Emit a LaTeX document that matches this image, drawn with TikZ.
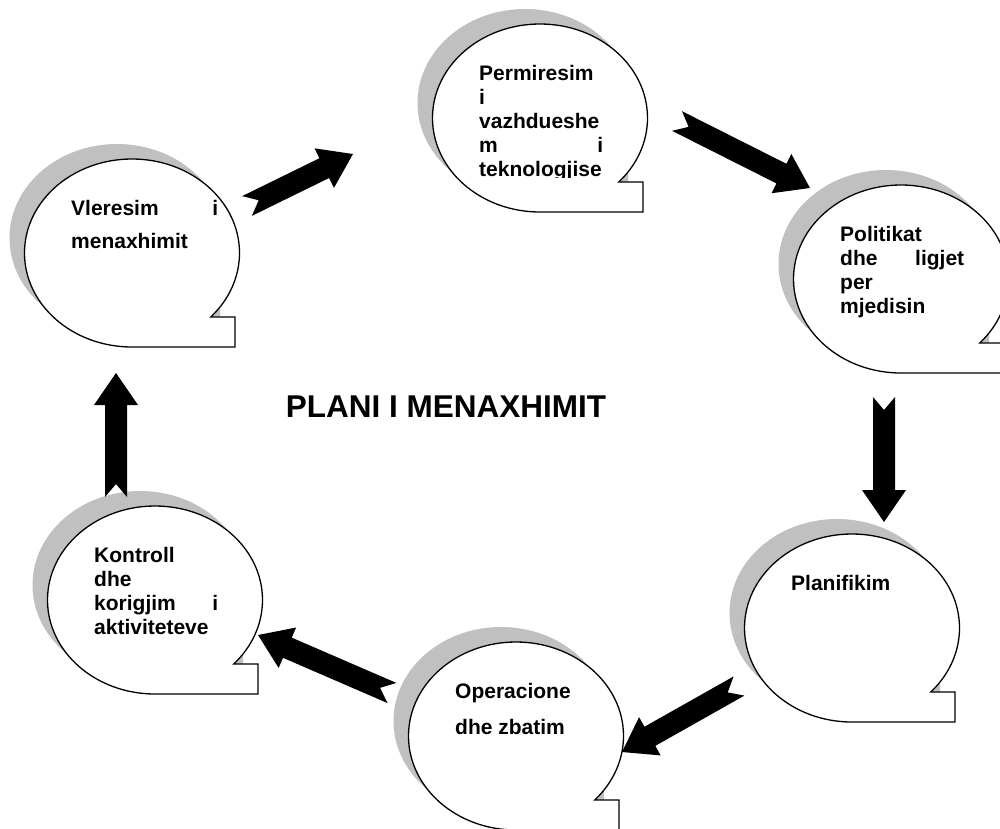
\documentclass[tikz,border=0pt]{standalone}
\usepackage{fontspec}
\setmainfont{Liberation Sans}
\definecolor{shadowgray}{RGB}{192,192,192}

% outline of one speech bubble, centre at (#1,#2)
\newcommand\bubbleshape[2]{({#1+103},{#2+64}) -- ({#1+103},{#2+94}) -- (#1,{#2+94})
  arc[start angle=90, end angle=402.9, x radius=107.5, y radius=94] -- cycle}
\newcommand\bubble[2]{%
  \fill[shadowgray,shift={(-15,-15)}] \bubbleshape{#1}{#2};
  \filldraw[fill=white,draw=black,line width=1.3pt] \bubbleshape{#1}{#2};}

% notched block arrow from #1 to #2
\newcommand\blockarrow[2]{%
  \path (#1); \pgfgetlastxy{\arrax}{\array}%
  \path (#2); \pgfgetlastxy{\arrbx}{\arrby}%
  \pgfmathsetmacro\arrang{atan2(\arrby-\array,\arrbx-\arrax)}%
  \pgfmathsetmacro\arrlen{veclen(\arrbx-\arrax,\arrby-\array)}%
  \begin{scope}[shift={(#1)},rotate=\arrang]
    \fill[black] (0,11) -- ({\arrlen-32},11) -- ({\arrlen-32},22) -- ({\arrlen},0)
      -- ({\arrlen-32},-22) -- ({\arrlen-32},-11) -- (0,-11) -- (13,0) -- cycle;
  \end{scope}}

\tikzset{bubbletext/.style={anchor=base west,inner sep=0pt,font=\bfseries\fontsize{21}{24}\selectfont}}

\begin{document}
\begin{tikzpicture}[x=1pt,y=-1pt]
 \clip (0,0) rectangle (1000,828);
 \fill[white] (0,0) rectangle (1000,828);

 \bubble{540}{118}
 \bubble{901}{279}
 \bubble{852}{628}
 \bubble{516}{736}
 \bubble{155}{600}
 \bubble{132}{253}

 \begin{scope}
  \clip (470,40) rectangle (620,177);
  \node[bubbletext] (perm) at (479,80) {\parbox[t]{124pt}{Permiresim\\ i\\ vazhdueshe\\ m\hfill i\\ teknologjise}};
 \end{scope}
 \node[bubbletext] (pol) at (840,241) {\parbox[t]{124pt}{Politikat\\ dhe\hfill ligjet\\ per\\ mjedisin}};
 \node[bubbletext] (plan) at (791,590) {\parbox[t]{124pt}{Planifikim}};
 \node[bubbletext] (oper) at (455,698) {\parbox[t]{124pt}{\fontsize{21}{36}\selectfont Operacione\\ dhe zbatim}};
 \node[bubbletext] (kontr) at (94,562) {\parbox[t]{124pt}{Kontroll\\ dhe\\ korigjim\hfill i\\ aktiviteteve}};
 \node[bubbletext] (vler) at (71,215) {\parbox[t]{147pt}{\fontsize{21}{33}\selectfont Vleresim\hfill i\\ menaxhimit}};

 \node[anchor=base,inner sep=0pt,font=\bfseries\fontsize{31.5}{36}\selectfont] (title) at (446,417) {PLANI I MENAXHIMIT};

 \coordinate (vler-out) at (247,206);
 \coordinate (perm-in) at (353,154);
 \coordinate (perm-out) at (677,121);
 \coordinate (pol-in) at (810,188);
 \coordinate (pol-out) at (884,397);
 \coordinate (plan-in) at (884,522);
 \coordinate (plan-out) at (739,686);
 \coordinate (oper-in) at (622,752);
 \coordinate (oper-out) at (392,693);
 \coordinate (kontr-in) at (258,635);
 \coordinate (kontr-out) at (116,497);
 \coordinate (vler-in) at (116,373);

 \blockarrow{vler-out}{perm-in}
 \blockarrow{perm-out}{pol-in}
 \blockarrow{pol-out}{plan-in}
 \blockarrow{plan-out}{oper-in}
 \blockarrow{oper-out}{kontr-in}
 \blockarrow{kontr-out}{vler-in}
\end{tikzpicture}
\end{document}
